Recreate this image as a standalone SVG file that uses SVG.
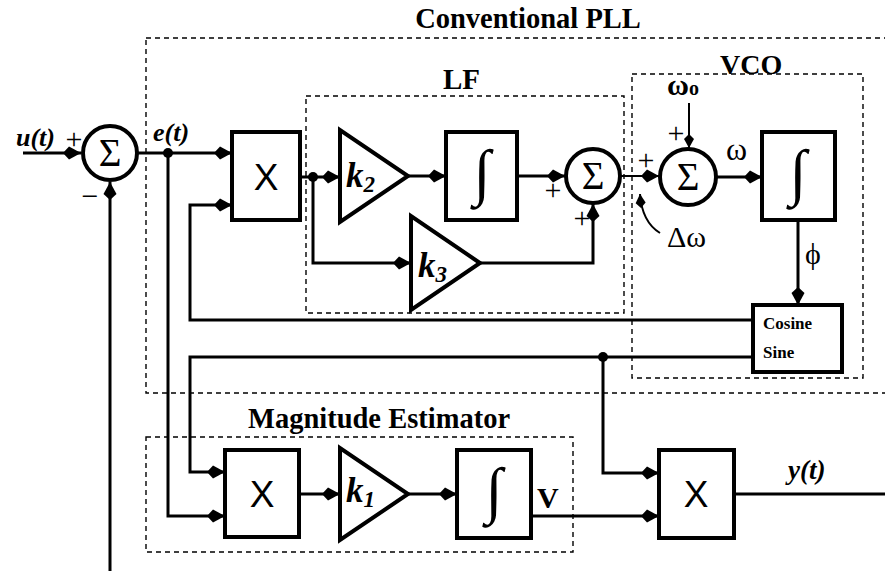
<svg xmlns="http://www.w3.org/2000/svg" width="885" height="571" viewBox="0 0 885 571">
<defs>
<marker id="ah" viewBox="-19 -8 20 16" refX="0" refY="0" markerWidth="20" markerHeight="16" markerUnits="userSpaceOnUse" orient="auto"><path d="M-18,0 L-12,-6.5 L0,0 L-12,6.5 Z" fill="#000"/></marker>
<marker id="ahs" viewBox="-15 -6 16 12" refX="0" refY="0" markerWidth="16" markerHeight="12" markerUnits="userSpaceOnUse" orient="auto"><path d="M-14,0 L-9,-5 L0,0 L-9,5 Z" fill="#000"/></marker>
<style>
.blk{fill:#fff;stroke:#000;stroke-width:4}
.w{fill:none;stroke:#000;stroke-width:3}
.wa{fill:none;stroke:#000;stroke-width:3;marker-end:url(#ah)}
.wt{fill:none;stroke:#000;stroke-width:2;marker-end:url(#ah)}
.ta{fill:none;stroke:#000;stroke-width:2;marker-end:url(#ahs)}
.grp{fill:none;stroke:#000;stroke-width:1.4;stroke-dasharray:5,4}
.t{font-family:"Liberation Serif","Times New Roman",serif;fill:#000}
.b{font-weight:bold}
.i{font-style:italic}
.x{font-family:"Liberation Sans",Arial,sans-serif;font-size:37px;text-anchor:middle;fill:#000}
.sg{font-family:"Liberation Serif","Times New Roman",serif;font-size:39px;text-anchor:middle;fill:#000}
.ig{font-family:"Liberation Serif","Times New Roman",serif;font-size:62px;text-anchor:middle;fill:#000}
.pl{font-family:"Liberation Serif","Times New Roman",serif;font-size:30px;text-anchor:middle;fill:#000}
.dot{fill:#000}
</style>
</defs>

<g id="groups">
<rect class="grp" x="146" y="38" width="760" height="355" stroke="#333"/>
<rect class="grp" x="306" y="96" width="318" height="217"/>
<rect class="grp" x="632" y="74" width="231" height="304"/>
<rect class="grp" x="146" y="437" width="427" height="115"/>
<text class="t b" x="528" y="28" font-size="28.5" text-anchor="middle">Conventional PLL</text>
<text class="t b" x="443" y="89" font-size="29">LF</text>
<text class="t b" x="720" y="74" font-size="28">VCO</text>
<text class="t b" x="248" y="428" font-size="28.5">Magnitude Estimator</text>
</g>

<g id="connectors">
<path class="wa" d="M23,153 H81"/>
<path class="wa" d="M110,571 V182"/>
<path class="wa" d="M137,153 H232"/>
<path class="wa" d="M168,153 V516 H225"/>
<path class="wa" d="M300,177 H340"/>
<path class="wa" d="M313,177 V263 H411"/>
<path class="wa" d="M408,176 H446"/>
<path class="wa" d="M517,176 H565"/>
<path class="wa" d="M480,263 H593 V204"/>
<path class="wt" d="M620,176 H659"/>
<path class="ta" d="M689,103 V148"/>
<path class="wa" d="M716,177 H762"/>
<path class="wa" d="M798,220 V305"/>
<path class="wa" d="M753,320 H190 V205 H232"/>
<path class="wa" d="M753,357 H190 V472 H225"/>
<path class="wa" d="M603,357 V473 H659"/>
<path class="wa" d="M299,494 H340"/>
<path class="wa" d="M408,494 H457"/>
<path class="wa" d="M531,516 H659"/>
<path class="w" d="M734,494 H885"/>
<path class="ta" d="M660,233 Q642,222 640,194"/>
<circle class="dot" cx="168" cy="153" r="5"/>
<circle class="dot" cx="313" cy="177" r="5"/>
<circle class="dot" cx="603" cy="357" r="5"/>
</g>

<g id="sum1">
<circle class="blk" cx="110" cy="153" r="27"/>
<text class="sg" x="110" y="166">Σ</text>
<text class="pl" x="74" y="149">+</text>
<text class="pl" x="90" y="206">−</text>
</g>

<g id="mult1">
<rect class="blk" x="232" y="132" width="68" height="88"/>
<text class="x" x="266" y="190">X</text>
</g>

<g id="k2">
<polygon class="blk" points="340,130 340,222 408,176"/>
<text class="t b i" x="346" y="187" font-size="35">k<tspan font-size="23" dy="5">2</tspan></text>
</g>

<g id="int1">
<rect class="blk" x="446" y="132" width="71" height="88"/>
<text class="ig" x="482" y="193">∫</text>
</g>

<g id="sum2">
<circle class="blk" cx="593" cy="176" r="27"/>
<text class="sg" x="593" y="189">Σ</text>
<text class="pl" x="553" y="200">+</text>
<text class="pl" x="582" y="228">+</text>
</g>

<g id="k3">
<polygon class="blk" points="411,216 411,310 480,263"/>
<text class="t b i" x="418" y="277" font-size="35">k<tspan font-size="23" dy="5">3</tspan></text>
</g>

<g id="sum3">
<circle class="blk" cx="688" cy="177" r="28"/>
<text class="sg" x="688" y="190">Σ</text>
<text class="pl" x="646" y="170">+</text>
<text class="pl" x="676" y="143">+</text>
<text class="t b" x="667" y="95" font-size="30">ω<tspan font-size="20">o</tspan></text>
<text class="t" x="726" y="160" font-size="32">ω</text>
<text class="t" x="667" y="247" font-size="30">Δω</text>
</g>

<g id="int2">
<rect class="blk" x="762" y="132" width="73" height="88"/>
<text class="ig" x="798" y="193">∫</text>
<text class="t" x="805" y="264" font-size="30">ϕ</text>
</g>

<g id="cosine-sine">
<rect class="blk" x="753" y="305" width="89" height="67" stroke-width="5"/>
<text class="t b" x="763" y="329" font-size="17">Cosine</text>
<text class="t b" x="763" y="358" font-size="17">Sine</text>
</g>

<g id="mult2">
<rect class="blk" x="225" y="450" width="74" height="87"/>
<text class="x" x="262" y="507">X</text>
</g>

<g id="k1">
<polygon class="blk" points="340,448 340,540 408,494"/>
<text class="t b i" x="346" y="502" font-size="35">k<tspan font-size="23" dy="5">1</tspan></text>
</g>

<g id="int3">
<rect class="blk" x="457" y="450" width="74" height="88"/>
<text class="ig" x="494" y="511">∫</text>
<text class="t b" x="537" y="508" font-size="30">V</text>
</g>

<g id="mult3">
<rect class="blk" x="659" y="450" width="75" height="88"/>
<text class="x" x="696" y="507">X</text>
</g>

<g id="labels">
<text class="t b i" x="16" y="146" font-size="26">u(t)</text>
<text class="t b i" x="153" y="141" font-size="26">e(t)</text>
<text class="t b i" x="788" y="479" font-size="27">y(t)</text>
</g>
</svg>
